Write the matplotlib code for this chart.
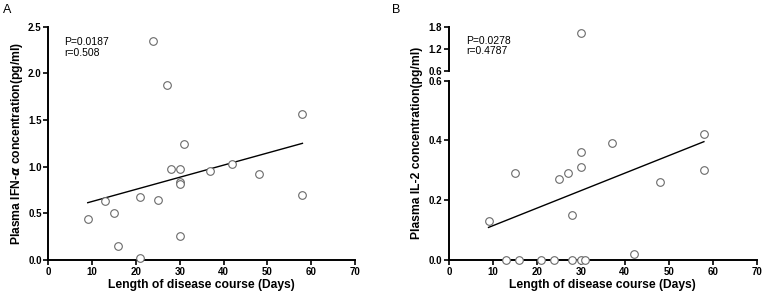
import matplotlib.pyplot as plt
import numpy as np

plt.rcParams['font.family'] = ['Liberation Sans', 'DejaVu Sans']
plt.rcParams['font.weight'] = 'bold'

# Panel A: IFN-alpha vs disease course
days_a = np.array([9, 13, 15, 16, 21, 21, 24, 25, 27, 28, 30, 30, 30, 30, 31, 37, 42, 48, 58, 58])
ifn_a = np.array([0.44, 0.63, 0.50, 0.15, 0.02, 0.67, 2.35, 0.64, 1.88, 0.98, 0.98, 0.84, 0.81, 0.26,
                  1.24, 0.95, 1.03, 0.92, 1.56, 0.70])

# Panel B: IL-2 vs disease course
days_b = np.array([9, 13, 15, 16, 21, 24, 25, 27, 28, 28, 30, 30, 30, 30, 31, 37, 42, 48, 58, 58])
il2_b = np.array([0.13, 0.0, 0.29, 0.0, 0.0, 0.0, 0.27, 0.29, 0.0, 0.15, 0.0, 0.36, 0.31, 1.63,
                  0.0, 0.39, 0.02, 0.26, 0.42, 0.30])

# fitted lines as shown (endpoints at x=9 and x=58)
fit_x = [9, 58]
fit_a = [0.614, 1.25]
fit_b = [0.109, 0.396]

marker_kw = dict(marker='o', ls='none', ms=5.5, mfc='white', mec='#6a6a6a', mew=0.8, clip_on=False, zorder=3)


def style(ax):
    for s in ['top', 'right']:
        ax.spines[s].set_visible(False)
    for s in ['left', 'bottom']:
        ax.spines[s].set_linewidth(1.4)
    ax.tick_params(width=1.2, length=3.3, labelsize=7, pad=1.5)


fig = plt.figure(figsize=(7.62, 2.97), dpi=100)

# ---- A ----
axA = fig.add_axes([0.0634, 0.1246, 0.4025, 0.7856])
axA.plot(days_a, ifn_a, **marker_kw)
axA.plot(fit_x, fit_a, color='black', lw=1.0)
axA.set_xlim(0, 70)
axA.set_ylim(0, 2.5)
axA.set_xticks(np.arange(0, 71, 10))
axA.set_yticks([0, 0.5, 1.0, 1.5, 2.0, 2.5])
axA.set_yticklabels(['0.0', '0.5', '1.0', '1.5', '2.0', '2.5'])
style(axA)
axA.set_xlabel('Length of disease course (Days)', fontsize=8.7, fontweight='bold', labelpad=2)
axA.set_ylabel(r'Plasma IFN-$\alpha$ concentration(pg/ml)', fontsize=8.7, fontweight='bold', labelpad=2)
axA.text(0.052, 0.955, 'P=0.0187\nr=0.508', transform=axA.transAxes, fontsize=7.5, va='top',
         linespacing=1.05, fontweight='normal')
fig.text(0.004, 0.985, 'A', fontsize=9, va='top', fontweight='normal')

# ---- B (broken axis) ----
low = il2_b <= 0.6
axB = fig.add_axes([0.5892, 0.1246, 0.4038, 0.6037])
axB.plot(days_b[low], il2_b[low], **marker_kw)
axB.plot(fit_x, fit_b, color='black', lw=1.0)
axB.set_xlim(0, 70)
axB.set_ylim(0, 0.6)
axB.set_xticks(np.arange(0, 71, 10))
axB.set_yticks([0, 0.2, 0.4, 0.6])
axB.set_yticklabels(['0.0', '0.2', '0.4', '0.6'])
style(axB)
axB.set_xlabel('Length of disease course (Days)', fontsize=8.7, fontweight='bold', labelpad=2)

axT = fig.add_axes([0.5892, 0.7609, 0.4038, 0.1492])
axT.plot(days_b[~low], il2_b[~low], **marker_kw)
axT.set_xlim(0, 70)
axT.set_ylim(0.6, 1.8)
axT.set_yticks([0.6, 1.2, 1.8])
axT.set_yticklabels(['0.6', '1.2', '1.8'])
axT.set_xticks([])
axT.spines['bottom'].set_visible(False)
axT.patch.set_alpha(0)
style(axT)
axT.text(0.055, 0.80, 'P=0.0278\nr=0.4787', transform=axT.transAxes, fontsize=7.5, va='top',
         linespacing=1.05, fontweight='normal')

fig.text(0.547, 0.52, 'Plasma IL-2 concentration(pg/ml)', fontsize=8.7, fontweight='bold',
         rotation=90, ha='center', va='center')
fig.text(0.515, 0.985, 'B', fontsize=9, va='top', fontweight='normal')

fig.savefig('out.png', dpi=100)
